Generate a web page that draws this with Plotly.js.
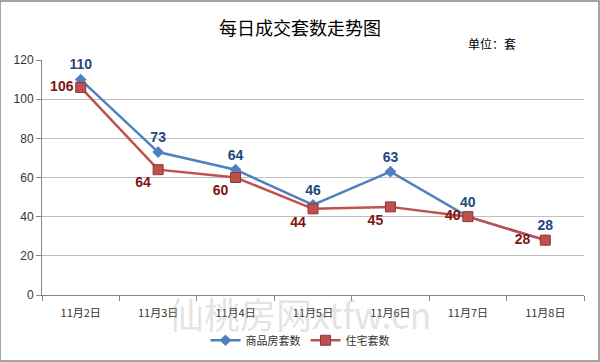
<!DOCTYPE html>
<html><head><meta charset="utf-8">
<script src="https://cdn.plot.ly/plotly-3.0.1.min.js"></script>
<style>html,body{margin:0;padding:0;background:#fff}#c{width:600px;height:362px}</style>
</head><body><div id="c"></div>
<script>
const categories = ["11月2日","11月3日","11月4日","11月5日","11月6日","11月7日","11月8日"];
const commercial = [110,73,64,46,63,40,28];
const residential = [106,64,60,44,45,40,28];
const yTicks = [0,20,40,60,80,100,120];
const redPos = ["middle left","bottom left","bottom left","bottom left","bottom left","middle left","middle left"];

const font = "Liberation Sans, Arial, sans-serif";
const cjk = "Noto Sans CJK SC, sans-serif";

const traces = [
  {x: categories, y: commercial, name: "商品房套数", type: "scatter", mode: "lines+markers+text",
   line: {color: "#4F81BD", width: 2.5}, marker: {symbol: "diamond", size: 9, color: "#4F81BD"},
   text: commercial.map(String), textposition: "top center", cliponaxis: false,
   textfont: {family: font, size: 14, color: "#1F497D", weight: "bold"}},
  {x: categories, y: residential, name: "住宅套数", type: "scatter", mode: "lines+markers+text",
   line: {color: "#C0504D", width: 2.5}, marker: {symbol: "square", size: 10, color: "#C0504D", line: {color: "#8C3836", width: 1}},
   text: residential.map((v, i) => i === 6 ? v + "\u00a0\u00a0" : String(v)), textposition: redPos, cliponaxis: false,
   textfont: {family: font, size: 14, color: "#7F1416", weight: "bold"}}
];

const layout = {
  width: 600, height: 362,
  margin: {l: 42, r: 16, t: 60, b: 67, autoexpand: false},
  paper_bgcolor: "#fff", plot_bgcolor: "#fff",
  title: {text: "每日成交套数走势图", x: 0.5, xanchor: "center", y: 0.92, yanchor: "middle",
          font: {family: cjk, size: 18, color: "#000"}},
  xaxis: {type: "category", range: [-0.5, 6.5], showgrid: false, showline: true, linecolor: "#868686",
          ticks: "outside", ticklen: 5, tickcolor: "#868686", tickson: "boundaries", ticklabelstandoff: 8,
          tickfont: {family: cjk, size: 11, color: "#333"}, fixedrange: true, automargin: false},
  yaxis: {range: [0, 120], tickvals: yTicks, showgrid: true, gridcolor: "#BFBFBF", gridwidth: 1,
          showline: true, linecolor: "#868686", ticks: "outside", ticklen: 5, tickcolor: "#868686",
          tickfont: {family: font, size: 12, color: "#333"}, zeroline: false, fixedrange: true, automargin: false},
  legend: {orientation: "h", x: 0.5, xanchor: "center", xref: "container", yref: "container", y: 0.02, yanchor: "bottom",
           font: {family: cjk, size: 11, color: "#333"}},
  showlegend: true,
  annotations: [
    {text: "单位：套", xref: "paper", yref: "paper", x: 0.83, y: 1.07, xanchor: "center", yanchor: "middle",
     showarrow: false, font: {family: cjk, size: 12, color: "#000"}},
    {text: "仙桃房网xtfw.cn", xref: "paper", yref: "paper", x: 0.476, y: -0.075, xanchor: "center", yanchor: "middle",
     showarrow: false, font: {family: cjk, size: 36, color: "rgba(160,160,160,0.3)"}}
  ],
  shapes: [
    {type: "rect", xref: "paper", yref: "paper", x0: -42/542, x1: 1 + 15/542, y0: -66/235, y1: 1 + 59/235,
     line: {color: "#868686", width: 1.5}, fillcolor: "rgba(0,0,0,0)"}
  ]
};
Plotly.newPlot("c", traces, layout, {displayModeBar: false, staticPlot: true});
</script></body></html>
